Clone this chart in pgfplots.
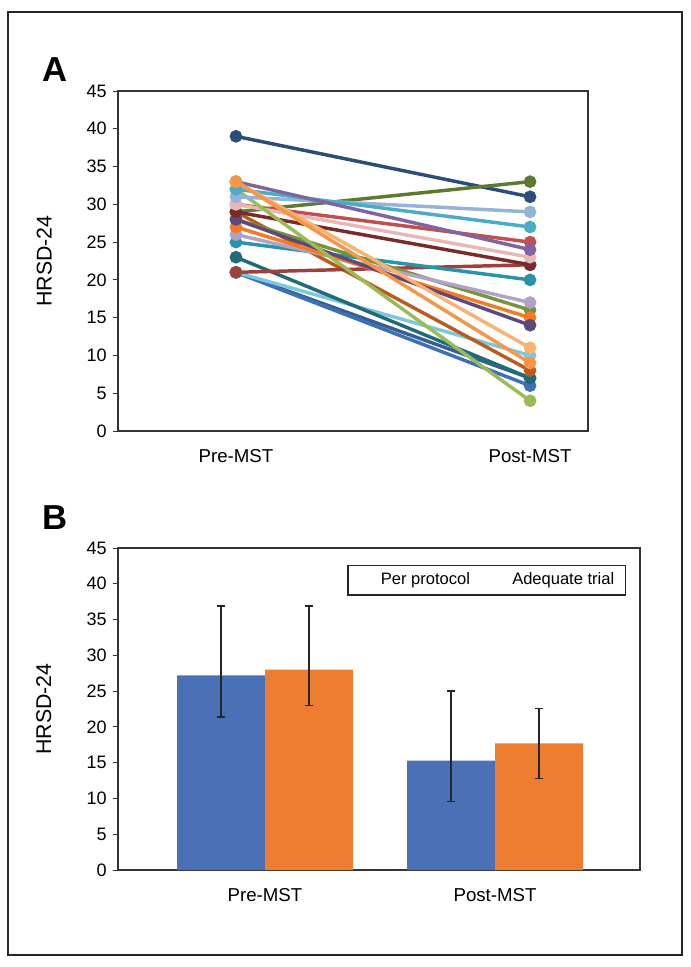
\documentclass[border=0pt]{standalone}
\usepackage{fontspec}
\setmainfont{Liberation Sans}
\usepackage{pgfplots}
\pgfplotsset{compat=1.18}
\usepackage{pgfplotstable}

\definecolor{cnavy}{HTML}{2C4D7A}
\definecolor{cpurple}{HTML}{8064A2}
\definecolor{clorange}{HTML}{F9B272}
\definecolor{corange2}{HTML}{F79646}
\definecolor{ccyan}{HTML}{4BACC6}
\definecolor{clgreen}{HTML}{9BBB59}
\definecolor{clblue}{HTML}{95B3D7}
\definecolor{cpink}{HTML}{E6B9B8}
\definecolor{cred}{HTML}{C0504D}
\definecolor{colive}{HTML}{5E7A32}
\definecolor{cbrown}{HTML}{B85C20}
\definecolor{cmaroon}{HTML}{772C2A}
\definecolor{cdpurple}{HTML}{5F497A}
\definecolor{corange}{HTML}{F47B20}
\definecolor{clpurple}{HTML}{B3A2C7}
\definecolor{cteal}{HTML}{2A93AC}
\definecolor{cgreen}{HTML}{77933C}
\definecolor{cdteal}{HTML}{1F6B7A}
\definecolor{cdred}{HTML}{A0403A}
\definecolor{csky}{HTML}{7EC8DE}
\definecolor{cblue}{HTML}{3F6FB5}
\definecolor{cblue2}{HTML}{376092}
\definecolor{barblue}{HTML}{4A70B5}
\definecolor{barorange}{HTML}{ED7D31}

\pgfplotstableread{
x  y    ep   em
0  27.2 9.7  5.8
1  15.3 9.7  5.7
}\pp
\pgfplotstableread{
x  y    ep   em
0  28.0 8.9  5.0
1  17.7 4.9  4.9
}\at

\begin{document}
\begin{tikzpicture}
\path[use as bounding box] (0,0) rectangle (517.5pt,725.25pt);
\draw[line width=0.9pt, black!85] (6pt,9pt) rectangle (511.5pt,716.25pt);

\node[font=\fontsize{26}{30}\selectfont\bfseries] at (41.25pt,672.75pt) {A};
\node[font=\fontsize{26}{30}\selectfont\bfseries] at (41.25pt,336.75pt) {B};

\begin{axis}[
  at={(88.5pt,402pt)}, anchor=south west,
  scale only axis, width=352.5pt, height=255pt,
  xmin=-0.401, xmax=1.197, ymin=0, ymax=45,
  xtick={0,1}, xticklabels={Pre-MST,Post-MST},
  ytick={0,5,...,45}, ytick pos=left,
  tick align=outside, major tick length=4pt,
  x tick style={draw=none},
  y tick style={black!80, line width=0.6pt},
  axis line style={black!80, line width=0.8pt},
  /pgf/number format/assume math mode=true,
  yticklabel style={font=\fontsize{13.5}{16}\selectfont, xshift=-1pt},
  xticklabel style={font=\fontsize{14}{16}\selectfont, yshift=-6pt},
  ylabel={HRSD-24},
  ylabel style={font=\fontsize{16}{19}\selectfont, at={(axis description cs:-0.157,0.5)}, anchor=center},
  every axis plot/.append style={line width=2.6pt, mark=*, mark size=3.4pt},
  clip=false,
]
\addplot[color=cnavy] coordinates {(0,39) (1,31)};
\addplot[color=colive] coordinates {(0,29) (1,33)};
\addplot[color=cblue2] coordinates {(0,21) (1,7)};
\addplot[color=cblue] coordinates {(0,21) (1,6)};
\addplot[color=csky] coordinates {(0,21) (1,10)};
\addplot[color=cdteal] coordinates {(0,23) (1,7)};
\addplot[color=cbrown] coordinates {(0,29) (1,8)};
\addplot[color=cdred] coordinates {(0,21) (1,22)};
\addplot[color=cteal] coordinates {(0,25) (1,20)};
\addplot[color=cgreen] coordinates {(0,28) (1,16)};
\addplot[color=clpurple] coordinates {(0,26) (1,17)};
\addplot[color=corange] coordinates {(0,27) (1,15)};
\addplot[color=cdpurple] coordinates {(0,28) (1,14)};
\addplot[color=cmaroon] coordinates {(0,29) (1,22)};
\addplot[color=cred] coordinates {(0,30) (1,25)};
\addplot[color=cpink] coordinates {(0,30) (1,23)};
\addplot[color=clgreen] coordinates {(0,32) (1,4)};
\addplot[color=clblue] coordinates {(0,31) (1,29)};
\addplot[color=ccyan] coordinates {(0,32) (1,27)};
\addplot[color=cpurple] coordinates {(0,33) (1,24)};
\addplot[color=clorange] coordinates {(0,33) (1,11)};
\addplot[color=corange2] coordinates {(0,33) (1,9)};
\end{axis}

\begin{axis}[
  at={(88.5pt,72.75pt)}, anchor=south west,
  scale only axis, width=391.5pt, height=241.5pt,
  xmin=-0.639, xmax=1.63, ymin=0, ymax=45,
  xtick={0,1}, xticklabels={Pre-MST,Post-MST},
  ytick={0,5,...,45}, ytick pos=left,
  ybar=0pt, bar width=66pt,
  tick align=outside, major tick length=4pt,
  x tick style={draw=none},
  y tick style={black!80, line width=0.6pt},
  axis line style={black!80, line width=0.8pt},
  /pgf/number format/assume math mode=true,
  yticklabel style={font=\fontsize{13.5}{16}\selectfont, xshift=-1pt},
  xticklabel style={font=\fontsize{14}{16}\selectfont, yshift=-6pt},
  ylabel={HRSD-24},
  ylabel style={font=\fontsize{16}{19}\selectfont, at={(axis description cs:-0.142,0.5)}, anchor=center},
  clip=false,
]
\addplot[fill=barblue, draw=none,
  error bars/.cd, y dir=both, y explicit,
  error bar style={line width=1pt, black!85}, error mark options={line width=1pt, black!85, mark size=3pt, rotate=90}]
  table[x=x, y=y, y error plus=ep, y error minus=em] {\pp};
\addplot[fill=barorange, draw=none,
  error bars/.cd, y dir=both, y explicit,
  error bar style={line width=1pt, black!85}, error mark options={line width=1pt, black!85, mark size=3pt, rotate=90}]
  table[x=x, y=y, y error plus=ep, y error minus=em] {\at};
\draw[black!85, line width=0.8pt] (axis description cs:0.4406,0.854) rectangle (axis description cs:0.973,0.947);
\node[font=\fontsize{12.4}{15}\selectfont] at (axis description cs:0.589,0.90) {Per protocol};
\node[font=\fontsize{12.4}{15}\selectfont] at (axis description cs:0.853,0.90) {Adequate trial};
\end{axis}
\end{tikzpicture}
\end{document}
